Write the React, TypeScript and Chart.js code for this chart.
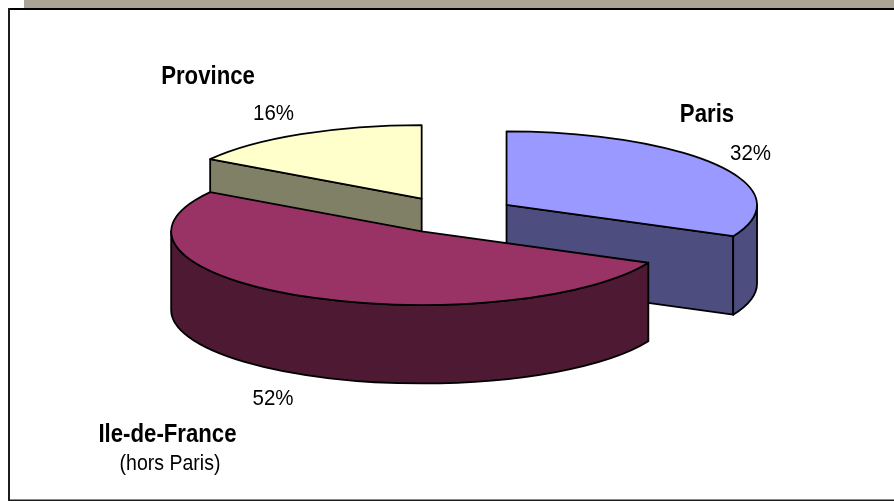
import { useEffect, useRef } from "react";
import { Chart, registerables } from "chart.js";

Chart.register(...registerables);

// Share of the total per zone, clockwise from twelve o'clock.
const zoneKeys = ["Paris", "Ile-de-France", "Province"];
const zoneShares = [32, 52, 16];
const topColours = ["#9999FF", "#993366", "#FFFFCC"];
const wallColours = ["#4D4D80", "#4D1933", "#808066"];

// Caption lines for each slice; bold line, then any plain second line.
const boldCaptions = ["Paris", "Ile-de-France", "Province"];
const plainCaption = "(hors Paris)";

// Back-to-front painting order so nearer slices cover farther walls.
const paintOrder = [2, 0, 1];

const RADIUS = 250.5;
const EXPLODE = 64;
const TILT = 0.2934;
const DEPTH = 78.5;
const OUTLINE = 1.8;
const TEXT_STRETCH = 1.12;

const FONT = '"Liberation Sans", Arial, sans-serif';

type Pt = { x: number; y: number };

// Paints each slice as a tilted disc segment with side walls, using the arc geometry
// Chart.js computed for the pie.
const tiltedPie = {
  id: "tiltedPie",
  beforeDatasetDraw(chart: any) {
    const ctx: CanvasRenderingContext2D = chart.ctx;
    const arcs = chart.getDatasetMeta(0).data;
    for (const i of paintOrder) {
      const arc = arcs[i];
      const { x, y, startAngle, endAngle, outerRadius: r } = arc;
      const mid = (startAngle + endAngle) / 2;
      const apex: Pt = {
        x: x + Math.cos(mid) * EXPLODE,
        y: y + Math.sin(mid) * EXPLODE * TILT,
      };
      const rim = (a: number): Pt => ({
        x: apex.x + Math.cos(a) * r,
        y: apex.y + Math.sin(a) * r * TILT,
      });

      ctx.save();
      ctx.lineWidth = OUTLINE;
      ctx.lineJoin = "round";
      ctx.strokeStyle = "#000";
      ctx.fillStyle = wallColours[i];

      // Cut faces turned toward the viewer.
      const cuts: number[] = [];
      if (Math.cos(startAngle) < -1e-6) cuts.push(startAngle);
      if (Math.cos(endAngle) > 1e-6) cuts.push(endAngle);
      for (const a of cuts) {
        const p = rim(a);
        ctx.beginPath();
        ctx.moveTo(apex.x, apex.y);
        ctx.lineTo(p.x, p.y);
        ctx.lineTo(p.x, p.y + DEPTH);
        ctx.lineTo(apex.x, apex.y + DEPTH);
        ctx.closePath();
        ctx.fill();
        ctx.stroke();
      }

      // Curved outer wall: only the front half of the rim is visible.
      const from = Math.max(startAngle, 0);
      const to = Math.min(endAngle, Math.PI);
      if (to > from) {
        const a = rim(from);
        const b = rim(to);
        ctx.beginPath();
        ctx.moveTo(a.x, a.y);
        ctx.ellipse(apex.x, apex.y, r, r * TILT, 0, from, to);
        ctx.lineTo(b.x, b.y + DEPTH);
        ctx.ellipse(apex.x, apex.y + DEPTH, r, r * TILT, 0, to, from, true);
        ctx.closePath();
        ctx.fill();
        ctx.stroke();
      }

      // Top face, filled by the pie's own arc element under a squashed transform.
      ctx.save();
      ctx.translate(x, y);
      ctx.scale(1, TILT);
      ctx.translate(-x, -y);
      ctx.translate(Math.cos(mid) * EXPLODE, Math.sin(mid) * EXPLODE);
      arc.draw(ctx);
      ctx.restore();

      // Outline stroked outside the squash so its width stays even.
      ctx.beginPath();
      ctx.moveTo(apex.x, apex.y);
      ctx.ellipse(apex.x, apex.y, r, r * TILT, 0, startAngle, endAngle);
      ctx.closePath();
      ctx.stroke();
      ctx.restore();
    }
    return false;
  },
  afterDraw(chart: any) {
    const ctx: CanvasRenderingContext2D = chart.ctx;
    // Captions are slightly taller than the face's natural proportions.
    const label = (t: string, x: number, y: number, font: string) => {
      ctx.save();
      ctx.translate(x, y);
      ctx.scale(1, TEXT_STRETCH);
      ctx.font = font;
      ctx.fillText(t, 0, 0);
      ctx.restore();
    };
    const bold = `bold 22.2px ${FONT}`;
    const plain = `20.5px ${FONT}`;
    ctx.save();
    ctx.fillStyle = "#000";
    ctx.textAlign = "center";
    ctx.textBaseline = "alphabetic";
    label(boldCaptions[0], 707, 121.5, bold);
    label(`${zoneShares[0]}%`, 750.5, 160, plain);
    label(`${zoneShares[1]}%`, 273, 405, plain);
    label(boldCaptions[1], 167.5, 442, bold);
    label(plainCaption, 170, 470, `19.5px ${FONT}`);
    label(boldCaptions[2], 208, 84, bold);
    label(`${zoneShares[2]}%`, 273.5, 119.5, plain);
    ctx.restore();
  },
  beforeDraw(chart: any) {
    const ctx: CanvasRenderingContext2D = chart.ctx;
    ctx.save();
    // Header band and the open-sided frame around the plot.
    ctx.fillStyle = "#ABA396";
    ctx.fillRect(24, 0, 870, 8);
    ctx.fillStyle = "#000";
    ctx.fillRect(8, 8, 886, 2);
    ctx.fillStyle = "#1c1c1c";
    ctx.fillRect(8, 8, 2, 493);
    ctx.fillRect(8, 499.5, 886, 1.5);
    ctx.restore();
  },
};

export default function App() {
  const ref = useRef<HTMLCanvasElement>(null);

  useEffect(() => {
    const chart = new Chart(ref.current as HTMLCanvasElement, {
      type: "pie",
      data: {
        labels: zoneKeys,
        datasets: [
          {
            data: zoneShares,
            backgroundColor: topColours,
            borderWidth: 0,
          },
        ],
      },
      options: {
        responsive: false,
        animation: false,
        events: [],
        radius: RADIUS,
        // Insets place the pie's centre at (452.5, 215).
        layout: { padding: { left: 11, bottom: 71 } },
        plugins: {
          legend: { display: false },
          tooltip: { enabled: false },
        },
      },
      plugins: [tiltedPie],
    } as any);
    return () => chart.destroy();
  }, []);

  return (
    <div style={{ position: "absolute", left: 0, top: 0, width: 894, height: 501, background: "#fff" }}>
      <canvas ref={ref} width={894} height={501} style={{ display: "block" }} />
    </div>
  );
}
